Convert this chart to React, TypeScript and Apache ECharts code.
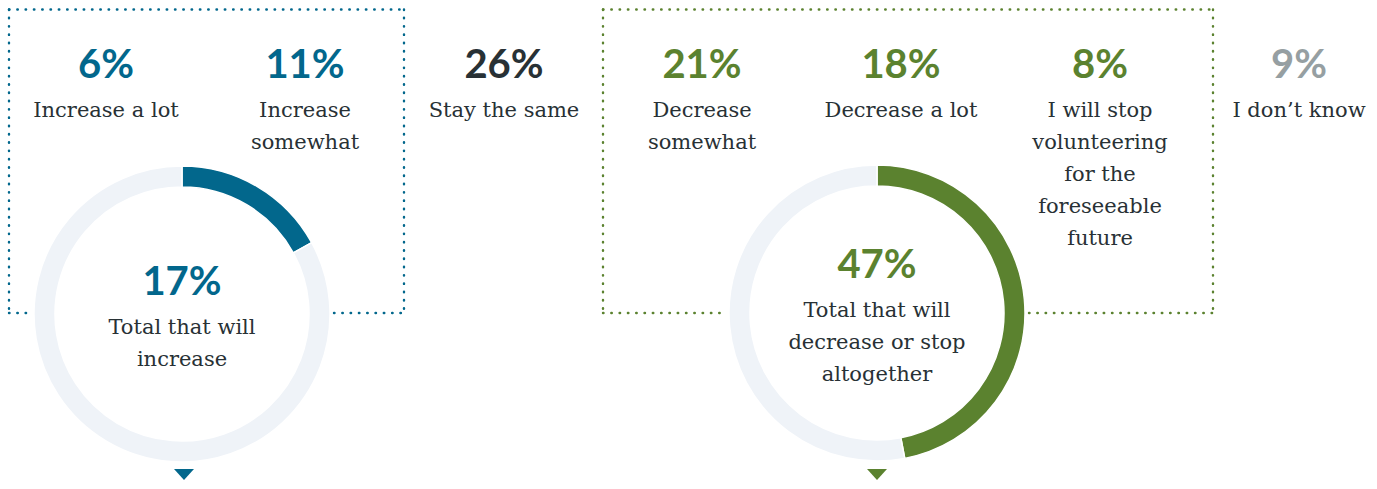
import React, { useEffect, useRef } from "react";
import * as echarts from "echarts";

// ---- data ----
const categories = [
  "Increase a lot",
  "Increase somewhat",
  "Stay the same",
  "Decrease somewhat",
  "Decrease a lot",
  "I will stop volunteering for the foreseeable future",
  "I don’t know",
];
const values = [6, 11, 26, 21, 18, 8, 9];
const groups = ["increase", "increase", "neutral", "decrease", "decrease", "decrease", "unknown"];
const labelLines = [
  ["Increase a lot"],
  ["Increase", "somewhat"],
  ["Stay the same"],
  ["Decrease", "somewhat"],
  ["Decrease a lot"],
  ["I will stop", "volunteering", "for the", "foreseeable", "future"],
  ["I don’t know"],
];
const increaseCaption = ["Total that will", "increase"];
const decreaseCaption = ["Total that will", "decrease or stop", "altogether"];

// ---- layout / style ----
const W = 1377;
const H = 489;
const columnX = [106, 305, 504, 702, 901, 1100, 1299];
const BLUE = "#02678c";
const GREEN = "#5b822f";
const RING = "#eff3f8";
const DARK = "#283135";
const GREY = "#969fa2";
const NUM_FONT = "Lato, 'Open Sans', sans-serif";
const LBL_FONT = "'DejaVu Serif', 'Liberation Serif', serif";
const groupColor: Record<string, string> = {
  increase: BLUE,
  neutral: DARK,
  decrease: GREEN,
  unknown: GREY,
};
const incCenter = [182, 314];
const decCenter = [877, 313];
const R_OUT = 148;
const R_IN = 127;

function sumGroup(g: string) {
  return values.reduce((s, v, i) => (groups[i] === g ? s + v : s), 0);
}

function numText(text: string, x: number, y: number, fill: string) {
  return {
    type: "text",
    silent: true,
    style: {
      text,
      x,
      y,
      align: "center",
      verticalAlign: "middle",
      fontFamily: NUM_FONT,
      fontWeight: "bold",
      fontSize: 40,
      fill,
    },
  };
}

function lblText(text: string, x: number, y: number) {
  return {
    type: "text",
    silent: true,
    style: {
      text,
      x,
      y,
      align: "center",
      verticalAlign: "middle",
      fontFamily: LBL_FONT,
      fontSize: 21,
      fill: DARK,
    },
  };
}

function dotted(x1: number, y1: number, x2: number, y2: number, color: string) {
  return {
    type: "line",
    silent: true,
    shape: { x1, y1, x2, y2 },
    style: { stroke: color, lineWidth: 2.4, lineDash: [0.5, 7.8], lineCap: "round" },
  };
}

export default function App() {
  const ref = useRef<HTMLDivElement>(null);
  useEffect(() => {
    if (!ref.current) return;
    const chart = echarts.init(ref.current, undefined, { renderer: "svg" });
    const incTotal = sumGroup("increase");
    const decTotal = sumGroup("decrease");

    const graphics: any[] = [];
    // boxes
    const gap = 152;
    const top = 9.5;
    const bot = 313;
    // blue box
    graphics.push(dotted(9, top, 404, top, BLUE));
    graphics.push(dotted(9, top, 9, bot, BLUE));
    graphics.push(dotted(404, top, 404, bot, BLUE));
    graphics.push(dotted(9, bot, incCenter[0] - gap, bot, BLUE));
    graphics.push(dotted(incCenter[0] + gap, bot, 404, bot, BLUE));
    // green box
    graphics.push(dotted(603, top, 1213, top, GREEN));
    graphics.push(dotted(603, top, 603, bot, GREEN));
    graphics.push(dotted(1213, top, 1213, bot, GREEN));
    graphics.push(dotted(603, bot, decCenter[0] - gap, bot, GREEN));
    graphics.push(dotted(decCenter[0] + gap, bot, 1213, bot, GREEN));

    // category columns
    categories.forEach((_, i) => {
      const x = columnX[i];
      graphics.push(numText(values[i] + "%", x, 63, groupColor[groups[i]]));
      labelLines[i].forEach((line, j) => graphics.push(lblText(line, x, 110 + j * 32)));
    });

    // centre captions
    graphics.push(numText(incTotal + "%", incCenter[0], 280, BLUE));
    increaseCaption.forEach((l, j) => graphics.push(lblText(l, incCenter[0], 327 + j * 32)));
    graphics.push(numText(decTotal + "%", decCenter[0], 263, GREEN));
    decreaseCaption.forEach((l, j) => graphics.push(lblText(l, decCenter[0], 310 + j * 32)));

    // triangles
    [
      [incCenter[0] + 2, BLUE],
      [decCenter[0], GREEN],
    ].forEach(([cx, c]: any) => {
      graphics.push({
        type: "polygon",
        silent: true,
        shape: { points: [[cx - 10, 469], [cx + 10, 469], [cx, 480]] },
        style: { fill: c },
      });
    });

    const ring = (center: number[], val: number, color: string, name: string) => ({
      type: "pie",
      name,
      silent: true,
      center,
      radius: [R_IN, R_OUT],
      startAngle: 90,
      clockwise: true,
      label: { show: false },
      labelLine: { show: false },
      emphasis: { disabled: true },
      itemStyle: { borderColor: "#fff", borderWidth: 1.5 },
      data: [
        { value: val, name, itemStyle: { color } },
        { value: 100 - val, name: "rest", itemStyle: { color: RING } },
      ],
    });

    chart.setOption({
      animation: false,
      backgroundColor: "#ffffff",
      series: [
        ring(incCenter, incTotal, BLUE, "Total that will increase"),
        ring(decCenter, decTotal, GREEN, "Total that will decrease or stop altogether"),
      ],
      graphic: graphics,
    });
    return () => chart.dispose();
  }, []);
  return (
    <div
      ref={ref}
      style={{ position: "absolute", left: 0, top: 0, width: W, height: H }}
    />
  );
}
